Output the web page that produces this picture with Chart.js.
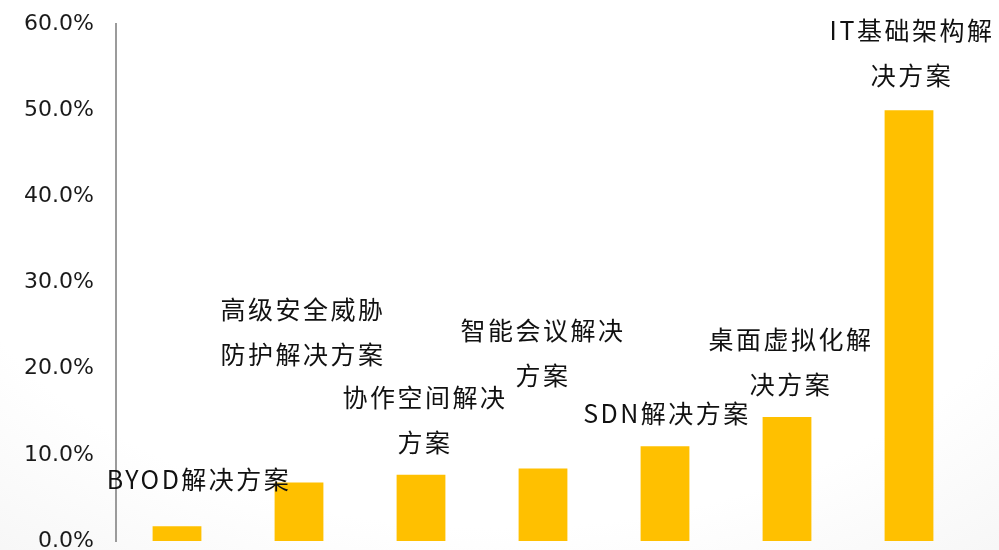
<!DOCTYPE html>
<html>
<head>
<meta charset="utf-8">
<script src="https://cdn.jsdelivr.net/npm/chart.js@4/dist/chart.umd.min.js"></script>
<style>
  html, body { margin: 0; padding: 0; }
  body {
    width: 999px; height: 550px; overflow: hidden;
    background: radial-gradient(ellipse 95% 110% at 50% 30%, #ffffff 60%, #f6f6f6 85%, #ececec 100%);
  }
  #wrap { position: relative; width: 999px; height: 550px; }
</style>
</head>
<body>
<div id="wrap"><canvas id="c" width="999" height="550"></canvas></div>
<script>
// Solution categories (each entry is the label's lines)
const categories = [
  ['BYOD解决方案'],
  ['高级安全威胁', '防护解决方案'],
  ['协作空间解决', '方案'],
  ['智能会议解决', '方案'],
  ['SDN解决方案'],
  ['桌面虚拟化解', '决方案'],
  ['IT基础架构解', '决方案']
];
// Share of respondents per solution (%)
const shares = [1.7, 6.8, 7.7, 8.4, 11.0, 14.4, 50.0];
// Y-axis tick values (%)
const yTicks = [0, 10, 20, 30, 40, 50, 60];

// Per-label placement: horizontal shift and gap between bar top and last line centre
const labelPlacement = {
  dx: [22, 4, 4, 0, 2, 4, 3],
  gap: [47, 128, 32, 93, 33, 32, 35],
  lineHeight: 45
};

const barLabels = {
  id: 'barLabels',
  afterDatasetsDraw(chart) {
    const ctx = chart.ctx;
    const meta = chart.getDatasetMeta(0);
    ctx.save();
    ctx.font = '25px "Noto Sans CJK SC", "Noto Sans", sans-serif';
    ctx.fillStyle = '#111111';
    ctx.textAlign = 'center';
    ctx.textBaseline = 'middle';
    if ('letterSpacing' in ctx) ctx.letterSpacing = '2.5px';
    meta.data.forEach((bar, i) => {
      const lines = categories[i];
      const n = lines.length;
      const lastY = bar.y - labelPlacement.gap[i];
      lines.forEach((line, j) => {
        const y = lastY - (n - 1 - j) * labelPlacement.lineHeight;
        ctx.fillText(line, bar.x + labelPlacement.dx[i], y);
      });
    });
    ctx.restore();
  }
};

new Chart(document.getElementById('c'), {
  type: 'bar',
  data: {
    labels: categories,
    datasets: [{
      data: shares,
      backgroundColor: '#FFC000',
      borderWidth: 0,
      categoryPercentage: 1.0,
      barPercentage: 0.4
    }]
  },
  options: {
    responsive: false,
    animation: false,
    layout: { padding: { top: 24, bottom: 9, right: 29, left: 0 } },
    plugins: { legend: { display: false }, tooltip: { enabled: false } },
    scales: {
      x: { display: false },
      y: {
        min: 0, max: 60,
        afterBuildTicks(scale) { scale.ticks = yTicks.map(v => ({ value: v })); },
        afterFit(scale) {
          scale.width = 116;
          scale.paddingTop = 0;
          scale.paddingBottom = 0;
        },
        grid: { display: false, drawTicks: false },
        border: { display: true, color: '#9b9b9b', width: 2 },
        ticks: {
          padding: 22,
          color: '#1a1a1a',
          font: { family: '"DejaVu Sans", sans-serif', size: 22 },
          callback: v => v.toFixed(1) + '%'
        }
      }
    }
  },
  plugins: [barLabels]
});
</script>
</body>
</html>
